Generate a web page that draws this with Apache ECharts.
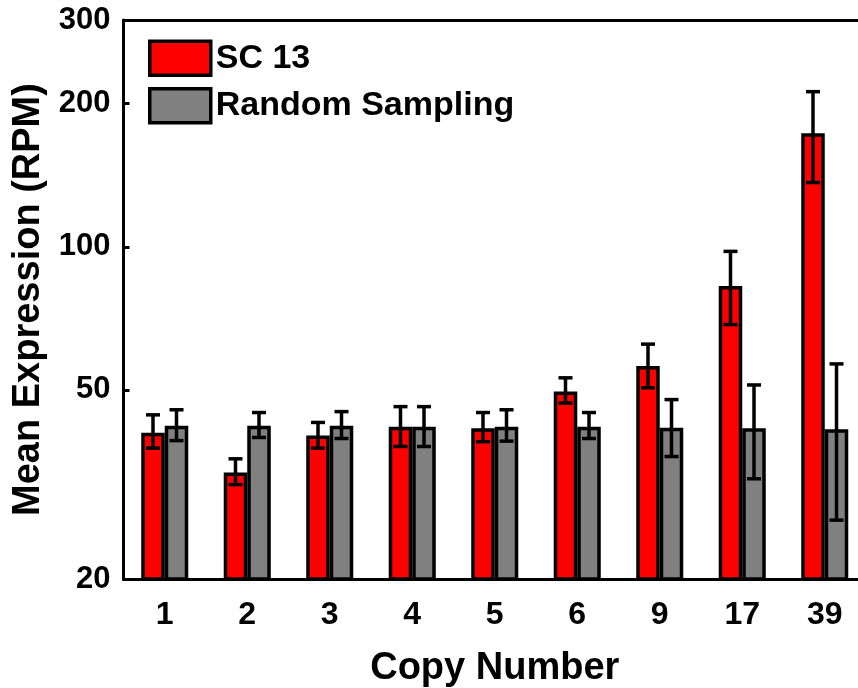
<!DOCTYPE html>
<html>
<head>
<meta charset="utf-8">
<script src="https://cdn.jsdelivr.net/npm/echarts@6/dist/echarts.min.js"></script>
<style>
  html, body { margin: 0; padding: 0; background: #fff; }
  #chart { width: 858px; height: 688px; }
</style>
</head>
<body>
<div id="chart"></div>
<script>
// Copy-number categories
const categories = ['1', '2', '3', '4', '5', '6', '9', '17', '39'];

// SC 13: mean expression (RPM) with lower / upper error limits
const sc13Mean = [40.6, 33.5, 40.1, 41.8, 41.5, 49.6, 56.1, 82.7, 173.3];
const sc13Low  = [37.7, 31.6, 37.7, 38.0, 38.9, 46.9, 50.5, 68.6, 136.5];
const sc13High = [44.3, 35.8, 42.7, 46.1, 44.8, 53.0, 62.4, 97.8, 212.0];

// Random sampling: mean expression (RPM) with lower / upper error limits
const randMean = [42.0, 42.0, 42.0, 41.8, 41.8, 41.8, 41.6, 41.5, 41.3];
const randLow  = [39.1, 39.7, 39.5, 38.0, 39.0, 39.5, 36.2, 32.5, 26.6];
const randHigh = [45.4, 44.8, 45.0, 46.1, 45.4, 44.8, 47.7, 51.2, 56.7];

// Y-axis tick values
const yTicks = [20, 50, 100, 200, 300];

const FONT = 'Liberation Sans, Arial, Helvetica, sans-serif';
const BAR_FRACTION = 0.285;

function errorBarRenderer(side) {
  return function (params, api) {
    const idx = api.value(0);
    const lo = api.value(1);
    const hi = api.value(2);
    const band = api.size([1, lo])[0];
    const off = side * band * BAR_FRACTION / 2;
    const pLo = api.coord([idx, lo]);
    const pHi = api.coord([idx, hi]);
    const x = pLo[0] + off;
    const half = 7;
    const style = { stroke: '#000', lineWidth: 3.5 };
    return {
      type: 'group',
      children: [
        { type: 'line', shape: { x1: x, y1: pLo[1], x2: x, y2: pHi[1] }, style },
        { type: 'line', shape: { x1: x - half, y1: pHi[1], x2: x + half, y2: pHi[1] }, style },
        { type: 'line', shape: { x1: x - half, y1: pLo[1], x2: x + half, y2: pLo[1] }, style }
      ]
    };
  };
}

const chart = echarts.init(document.getElementById('chart'), null, { renderer: 'canvas' });

chart.setOption({
  animation: false,
  backgroundColor: '#fff',
  textStyle: { fontFamily: FONT, fontWeight: 'bold', color: '#000' },
  // the plot area runs slightly past the right edge of the canvas
  grid: { left: 123.5, top: 20, width: 742.5, height: 559, containLabel: false, outerBoundsMode: 'none' },
  legend: {
    data: ['SC 13', 'Random Sampling'],
    orient: 'vertical',
    left: 148,
    top: 39.5,
    padding: 0,
    itemWidth: 61,
    itemHeight: 34,
    itemGap: 10,
    icon: 'rect',
    itemStyle: { borderColor: '#000', borderWidth: 3.5 },
    textStyle: { fontFamily: FONT, fontWeight: 'bold', fontSize: 34, color: '#000' }
  },
  xAxis: [
    {
      type: 'category',
      data: categories,
      position: 'bottom',
      z: 10,
      name: 'Copy Number',
      nameLocation: 'middle',
      nameGap: 71,
      nameTextStyle: { fontFamily: FONT, fontWeight: 'bold', fontSize: 38, color: '#000' },
      axisLine: { lineStyle: { color: '#000', width: 3 } },
      axisTick: { inside: true, alignWithLabel: true, length: 7, lineStyle: { color: '#000', width: 3 } },
      axisLabel: { fontFamily: FONT, fontWeight: 'bold', fontSize: 32, color: '#000', margin: 20 },
      splitLine: { show: false }
    },
    {
      type: 'category',
      data: categories,
      position: 'top',
      z: 10,
      axisLine: { lineStyle: { color: '#000', width: 3 } },
      axisTick: { inside: true, alignWithLabel: true, length: 7, lineStyle: { color: '#000', width: 3 } },
      axisLabel: { show: false },
      splitLine: { show: false }
    }
  ],
  yAxis: {
    type: 'log',
    logBase: 10,
    min: 20,
    max: 300,
    z: 10,
    name: 'Mean Expression (RPM)',
    nameLocation: 'middle',
    nameGap: 72,
    nameTextStyle: { fontFamily: FONT, fontWeight: 'bold', fontSize: 38, color: '#000' },
    axisLine: { show: true, lineStyle: { color: '#000', width: 3 } },
    axisTick: { show: true, inside: true, length: 6, customValues: yTicks, lineStyle: { color: '#000', width: 3 } },
    axisLabel: { fontFamily: FONT, fontWeight: 'bold', fontSize: 31, color: '#000', margin: 13, customValues: yTicks },
    splitLine: { show: false },
    minorTick: { show: false }
  },
  series: [
    {
      name: 'SC 13',
      type: 'bar',
      data: sc13Mean,
      barWidth: (BAR_FRACTION * 100) + '%',
      barGap: '0%',
      clip: true,
      itemStyle: { color: '#ff0000', borderColor: '#000', borderWidth: 3.5 }
    },
    {
      name: 'Random Sampling',
      type: 'bar',
      data: randMean,
      barWidth: (BAR_FRACTION * 100) + '%',
      barGap: '0%',
      clip: true,
      itemStyle: { color: '#808080', borderColor: '#000', borderWidth: 3.5 }
    },
    {
      name: 'SC 13 error',
      type: 'custom',
      z: 5,
      renderItem: errorBarRenderer(-1),
      encode: { x: 0, y: [1, 2] },
      data: categories.map((c, i) => [i, sc13Low[i], sc13High[i]])
    },
    {
      name: 'Random Sampling error',
      type: 'custom',
      z: 5,
      renderItem: errorBarRenderer(1),
      encode: { x: 0, y: [1, 2] },
      data: categories.map((c, i) => [i, randLow[i], randHigh[i]])
    }
  ]
});
</script>
</body>
</html>
